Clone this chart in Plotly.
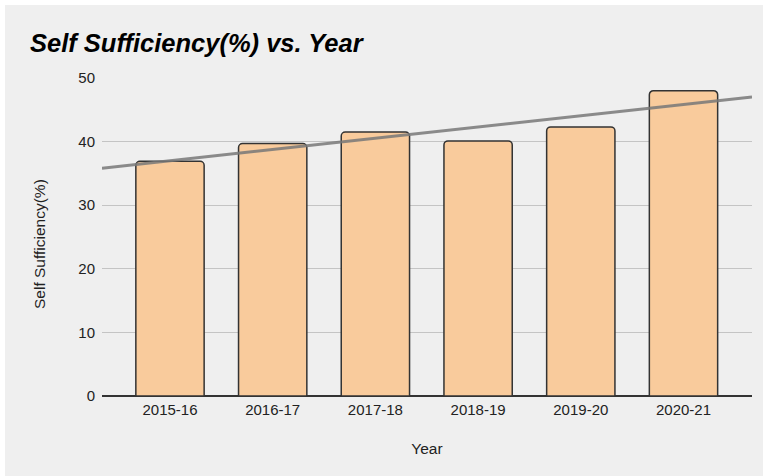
import numpy as np
import plotly.graph_objects as go

# Self sufficiency (%) by financial year
years = ["2015-16", "2016-17", "2017-18", "2018-19", "2019-20", "2020-21"]
self_sufficiency = [36.9, 39.7, 41.5, 40.1, 42.3, 48.0]
y_ticks = [0, 10, 20, 30, 40, 50]

x_pos = np.arange(len(years))
x_range = [-0.662, 5.667]

# Linear trendline fitted over the yearly values, spanning the full axis width
slope, intercept = np.polyfit(x_pos, self_sufficiency, 1)
trend_x = np.array(x_range)
trend_y = slope * trend_x + intercept

W, H = 763, 476
ml, mr, mt, mb = 102, 11, 78, 80
pw, ph = W - ml - mr, H - mt - mb

def px_to_paper_x(px):
    return (px - ml) / pw

def px_to_paper_y(py):
    return (H - mb - py) / ph

fig = go.Figure()

fig.add_trace(go.Bar(
    x=x_pos,
    y=self_sufficiency,
    width=0.665,
    marker=dict(color="#f9cb9c", line=dict(color="#333333", width=1.5), cornerradius=4),
    showlegend=False,
    hoverinfo="x+y",
))

fig.add_trace(go.Scatter(
    x=trend_x,
    y=trend_y,
    mode="lines",
    line=dict(color="rgba(120,120,120,0.85)", width=3),
    showlegend=False,
    hoverinfo="skip",
))

font_family = "Liberation Sans, Arial, sans-serif"
label_color = "#222222"

fig.update_layout(
    width=W,
    height=H,
    margin=dict(l=ml, r=mr, t=mt, b=mb),
    paper_bgcolor="white",
    plot_bgcolor="#efefef",
    font=dict(family=font_family, color=label_color, size=15),
    title=dict(
        text="<b><i>Self Sufficiency(%) vs. Year</i></b>",
        font=dict(family=font_family, size=25.5, color="#000000"),
        x=30 / W,
        xanchor="left",
        y=1 - 43 / H,
        yanchor="middle",
    ),
    xaxis=dict(
        range=x_range,
        tickmode="array",
        tickvals=x_pos,
        ticktext=years,
        showgrid=False,
        zeroline=False,
        showline=False,
        ticks="",
        tickfont=dict(size=15, color=label_color),
        ticklabelstandoff=3,
        title=dict(text="Year", font=dict(size=15.5, color=label_color), standoff=26),
        automargin=False,
        fixedrange=True,
    ),
    yaxis=dict(
        range=[0, 50],
        tickmode="array",
        tickvals=y_ticks,
        showgrid=True,
        gridcolor="#c4c4c4",
        gridwidth=1,
        zeroline=True,
        zerolinecolor="#333333",
        zerolinewidth=1.5,
        ticks="",
        tickfont=dict(size=15, color=label_color),
        ticklabelstandoff=6,
        automargin=False,
        fixedrange=True,
    ),
    annotations=[
        dict(
            text="Self Sufficiency(%)",
            textangle=-90,
            xref="paper",
            yref="paper",
            x=px_to_paper_x(39),
            y=px_to_paper_y(244),
            xanchor="center",
            yanchor="middle",
            showarrow=False,
            font=dict(size=15.5, color=label_color),
        )
    ],
    shapes=[
        dict(
            type="rect",
            xref="paper",
            yref="paper",
            x0=px_to_paper_x(5),
            x1=px_to_paper_x(W + 10),
            y0=px_to_paper_y(H + 10),
            y1=px_to_paper_y(5),
            fillcolor="#efefef",
            line=dict(width=0),
            layer="below",
        )
    ],
)

fig.write_html("out.html")
